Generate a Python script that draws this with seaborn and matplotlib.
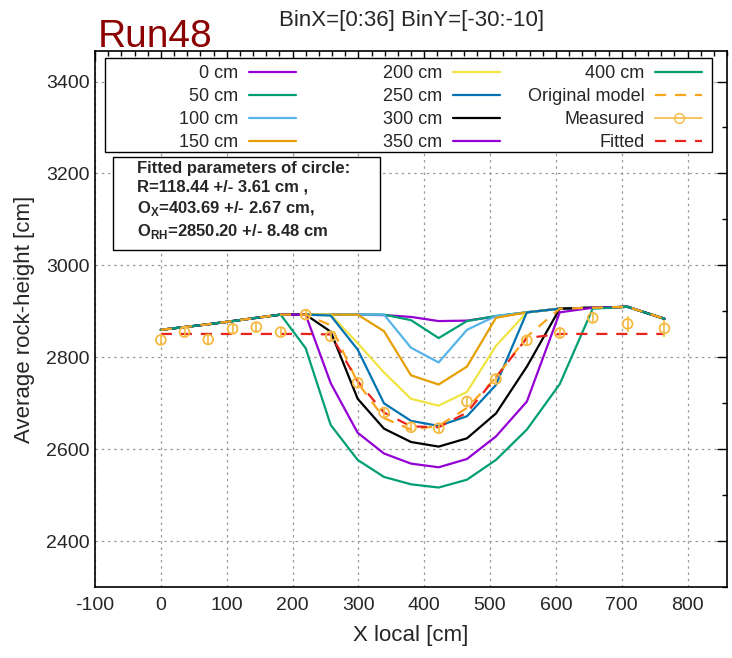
import pandas as pd
import matplotlib
matplotlib.use("Agg")
import matplotlib.pyplot as plt
import seaborn as sns
from matplotlib.legend import Legend
from matplotlib.lines import Line2D
from matplotlib.patches import Rectangle
from matplotlib.ticker import MultipleLocator

# x positions of the bins [cm]
x_local = [0, 36, 72, 109, 145, 182, 220, 258, 299, 339, 380, 422, 465, 509, 556, 606, 656, 709, 765]

# average rock-height per scan depth [cm]
depth_labels = ["0 cm", "50 cm", "100 cm", "150 cm", "200 cm", "250 cm", "300 cm", "350 cm", "400 cm"]
rh_0 = [2860, 2866, 2872, 2879, 2886, 2893, 2893, 2893, 2893, 2892, 2888, 2879, 2880, 2889, 2898, 2906, 2908, 2910, 2884]
rh_50 = [2860, 2866, 2872, 2879, 2886, 2893, 2893, 2893, 2893, 2893, 2881, 2842, 2879, 2890, 2898, 2906, 2908, 2910, 2884]
rh_100 = [2860, 2866, 2872, 2879, 2886, 2893, 2893, 2893, 2893, 2893, 2821, 2789, 2860, 2890, 2898, 2906, 2908, 2910, 2884]
rh_150 = [2860, 2866, 2872, 2879, 2886, 2893, 2893, 2893, 2893, 2857, 2761, 2741, 2780, 2886, 2898, 2906, 2908, 2910, 2884]
rh_200 = [2860, 2866, 2872, 2879, 2886, 2893, 2893, 2893, 2831, 2767, 2710, 2695, 2725, 2825, 2898, 2906, 2908, 2910, 2884]
rh_250 = [2860, 2866, 2872, 2879, 2886, 2893, 2893, 2891, 2817, 2700, 2662, 2651, 2672, 2740, 2898, 2906, 2908, 2910, 2884]
rh_300 = [2860, 2866, 2872, 2879, 2886, 2893, 2893, 2856, 2710, 2645, 2616, 2606, 2624, 2678, 2780, 2906, 2908, 2910, 2884]
rh_350 = [2860, 2866, 2872, 2879, 2886, 2893, 2893, 2744, 2636, 2591, 2569, 2561, 2579, 2628, 2704, 2898, 2908, 2910, 2884]
rh_400 = [2860, 2866, 2872, 2879, 2886, 2893, 2820, 2653, 2577, 2540, 2524, 2517, 2534, 2577, 2643, 2742, 2906, 2910, 2884]

orig_model = [2860, 2866, 2872, 2879, 2886, 2893, 2893, 2870, 2745, 2668, 2643, 2651, 2690, 2756, 2845, 2906, 2908, 2910, 2884]
measured = [2838, 2855, 2839, 2862, 2866, 2855, 2893, 2846, 2745, 2680, 2648, 2646, 2704, 2753, 2837, 2853, 2886, 2873, 2863]
measured_err = [9, 9, 9, 9, 9, 9, 9, 9, 10, 10, 9, 9, 10, 10, 12, 13, 11, 17, 18]
fitted = [2851, 2851, 2851, 2851, 2851, 2851, 2851, 2850, 2748, 2680, 2650, 2648, 2680, 2757, 2842, 2851, 2851, 2851, 2851]

depth_colors = ["#9400d3", "#009e73", "#56b4e9", "#e69f00", "#f0e442",
                "#0072b2", "#000000", "#9400d3", "#009e73"]
c_orig = "#f8a51c"
c_meas = "#f5b942"
c_fit = "#e8231c"

rows = []
for lab, vals in zip(depth_labels, [rh_0, rh_50, rh_100, rh_150, rh_200, rh_250, rh_300, rh_350, rh_400]):
    for xv, yv in zip(x_local, vals):
        rows.append({"x": xv, "rh": yv, "depth": lab})
df = pd.DataFrame(rows)

sns.set_style("white")
plt.rcParams["font.family"] = ["Liberation Sans", "DejaVu Sans"]
plt.rcParams["mathtext.fontset"] = "custom"
plt.rcParams["mathtext.bf"] = "Liberation Sans:bold"
plt.rcParams["mathtext.rm"] = "Liberation Sans"
plt.rcParams["axes.unicode_minus"] = False

fig, ax = plt.subplots(figsize=(7.32, 6.58), dpi=100)
fig.subplots_adjust(left=95 / 732, right=727 / 732, bottom=1 - 587.3 / 658, top=1 - 50.7 / 658)

lw = 1.6
sns.lineplot(data=df, x="x", y="rh", hue="depth", hue_order=depth_labels,
             palette=dict(zip(depth_labels, depth_colors)), sort=False,
             estimator=None, linewidth=lw, legend=False, ax=ax)
sns.lineplot(x=x_local, y=orig_model, color=c_orig, linewidth=lw,
             linestyle=(0, (5, 4)), sort=False, estimator=None, ax=ax)
ax.errorbar(x_local, measured, yerr=measured_err, fmt="none", ecolor=c_meas,
            elinewidth=1.2, capsize=0, zorder=3)
sns.scatterplot(x=x_local, y=measured, marker="o", s=50, facecolor="none",
                edgecolor=c_meas, linewidth=1.3, zorder=3, ax=ax)
sns.lineplot(x=x_local, y=fitted, color=c_fit, linewidth=lw,
             linestyle=(0, (5, 4)), sort=False, estimator=None, ax=ax)

ax.set_xlim(-100, 860)
ax.set_ylim(2300, 3467)
ax.xaxis.set_major_locator(MultipleLocator(100))
ax.xaxis.set_minor_locator(MultipleLocator(20))
ax.yaxis.set_major_locator(MultipleLocator(200))
ax.yaxis.set_minor_locator(MultipleLocator(100))
ax.tick_params(which="both", direction="in", top=True, right=True, color="black", width=1)
ax.tick_params(which="major", length=7, labelsize=14)
ax.tick_params(which="minor", length=3.5)
ax.tick_params(axis="x", pad=7)
ax.tick_params(axis="y", pad=4)
ax.grid(which="major", color="#9a9a9a", linestyle=(0, (2, 3)), linewidth=0.9)
ax.set_axisbelow(True)
for sp in ax.spines.values():
    sp.set_color("black")
    sp.set_linewidth(1.2)

ax.set_xlabel("X local [cm]", fontsize=16, labelpad=8)
ax.set_ylabel("Average rock-height [cm]", fontsize=16, labelpad=8)

# legend, three columns, labels right-aligned in front of the line sample
handles = [Line2D([], [], color=c, lw=lw) for c in depth_colors]
handles.append(Line2D([], [], color=c_orig, lw=lw, ls=(0, (5, 4))))
handles.append(Line2D([], [], color=c_meas, lw=1.2, marker="o", mfc="none", ms=7))
handles.append(Line2D([], [], color=c_fit, lw=lw, ls=(0, (5, 4))))
labels = depth_labels + ["Original model", "Measured", "Fitted"]

ax.add_patch(Rectangle((0.016, 0.811), 0.96, 0.175, transform=ax.transAxes,
                       facecolor="white", edgecolor="black", lw=1, zorder=4))
col_right = [0.332, 0.655, 0.975]
for i in range(3):
    leg = Legend(ax, handles[4 * i:4 * i + 4], labels[4 * i:4 * i + 4], loc="upper right",
                 bbox_to_anchor=(col_right[i], 0.99), bbox_transform=ax.transAxes,
                 frameon=False, markerfirst=False, borderpad=0, handlelength=2.6,
                 handletextpad=0.6, labelspacing=0.33, fontsize=13, numpoints=1)
    ax.add_artist(leg)

# fit result box
ax.add_patch(Rectangle((0.028, 0.629), 0.423, 0.173, transform=ax.transAxes,
                       facecolor="white", edgecolor="black", lw=1, zorder=4))
fit_text = ("Fitted parameters of circle:\n"
            "R=118.44 +/- 3.61 cm ,\n"
            r"O$_{\mathbf{X}}$=403.69 +/- 2.67 cm," "\n"
            r"O$_{\mathbf{RH}}$=2850.20 +/- 8.48 cm")
ax.text(0.066, 0.795, fit_text, transform=ax.transAxes, fontsize=12, fontweight="bold",
        va="top", ha="left", linespacing=1.3, zorder=5)

fig.text(98 / 732, 1 - 47 / 658, "Run48", color="#8b0000", fontsize=28, ha="left", va="baseline")
fig.text(412 / 732, 1 - 26 / 658, "BinX=[0:36] BinY=[-30:-10]", fontsize=16,
         ha="center", va="baseline")

fig.savefig("out.png", dpi=100)
